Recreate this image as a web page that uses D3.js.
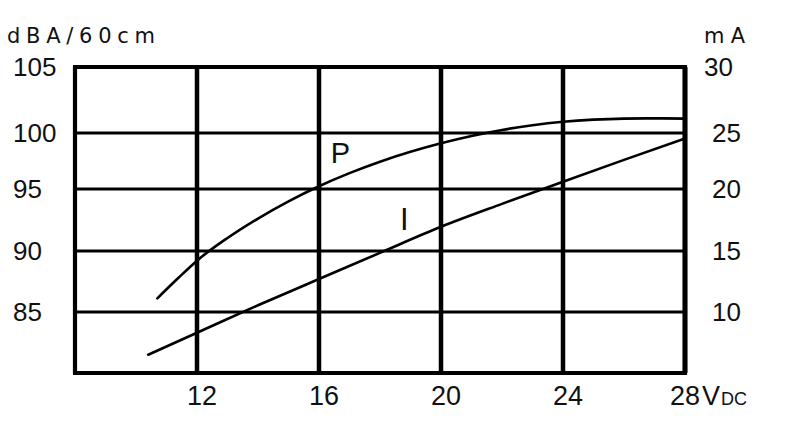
<!DOCTYPE html>
<html><head><meta charset="utf-8">
<script src="https://cdn.jsdelivr.net/npm/d3@7"></script>
<style>
body{margin:0;background:#fff}
text{font-family:"Liberation Sans",Arial,sans-serif;fill:#111}
text.title{font-family:"DejaVu Sans",sans-serif}
</style>
</head><body>
<svg id="c" width="800" height="433"></svg>
<script>
// ---- data ----
const voltTicks = [12, 16, 20, 24, 28];
const dbaTicks = [85, 90, 95, 100, 105];
const maTicks = [10, 15, 20, 25, 30];
const pVolts = [10.7, 11.35, 12, 13, 14, 15, 16, 17, 18, 19, 20, 21, 22, 23, 24, 25, 26, 27, 28];
const pDba   = [86.12, 87.7, 89.21, 91.05, 92.62, 94.01, 95.25, 96.42, 97.44, 98.32, 99.08, 99.73, 100.23, 100.59, 100.85, 101.01, 101.09, 101.11, 101.09];
const iVolts = [10.4, 12, 14, 16, 18, 20, 22, 24, 26, 28];
const iMa    = [6.5, 8.3, 10.55, 12.7, 14.85, 16.95, 18.8, 20.65, 22.6, 24.5];

const svg = d3.select("#c");
const x = d3.scaleLinear().domain([8, 28]).range([75, 685]);
const y = d3.scaleLinear().domain([80, 85, 90, 95, 100, 105]).range([373, 312, 251, 189, 133, 67]);
const yR = d3.scaleLinear().domain([5, 10, 15, 20, 25, 30]).range([373, 312, 251, 189, 133, 67]);

// horizontal grid
svg.append("g").selectAll("line").data(dbaTicks.filter(d => d < 105)).join("line")
  .attr("x1", x(8)).attr("x2", x(28)).attr("y1", d => y(d)).attr("y2", d => y(d))
  .attr("stroke", "#000").attr("stroke-width", 3);
// vertical grid
svg.append("g").selectAll("line").data(voltTicks.filter(d => d < 28)).join("line")
  .attr("y1", y(80)).attr("y2", y(105)).attr("x1", d => x(d)).attr("x2", d => x(d))
  .attr("stroke", "#000").attr("stroke-width", 4.5);
// frame
svg.append("path")
  .attr("d", `M${x(8)},${y(105)}H${x(28)}V${y(80)}H${x(8)}Z`)
  .attr("fill", "none").attr("stroke", "#000").attr("stroke-width", 4.2)
  .attr("stroke-linejoin", "miter");
svg.append("line").attr("x1", x(28)).attr("x2", x(28)).attr("y1", y(105)).attr("y2", y(80))
  .attr("stroke", "#000").attr("stroke-width", 5);

// curves
const line = d3.line().curve(d3.curveMonotoneX);
svg.append("path")
  .attr("d", line(pVolts.map((v, i) => [x(v), y(pDba[i])])))
  .attr("fill", "none").attr("stroke", "#000").attr("stroke-width", 2.6).attr("stroke-linecap", "round");
svg.append("path")
  .attr("d", line(iVolts.map((v, i) => [x(v), yR(iMa[i])])))
  .attr("fill", "none").attr("stroke", "#000").attr("stroke-width", 2.6).attr("stroke-linecap", "round");

// curve labels
svg.append("text").attr("x", x(16.7)).attr("y", y(97.3)).attr("text-anchor", "middle")
  .attr("font-size", 29).text("P");
svg.append("text").attr("x", x(18.8)).attr("y", yR(16.7)).attr("text-anchor", "middle")
  .attr("font-size", 31).text("I");

// left tick labels
svg.append("g").selectAll("text").data(dbaTicks).join("text")
  .attr("x", 13).attr("y", d => y(d)).attr("dy", "0.36em")
  .attr("font-size", 26).text(d => d);
// right tick labels
svg.append("g").selectAll("text").data(maTicks).join("text")
  .attr("x", d => d === 30 ? 704 : 712).attr("y", d => yR(d)).attr("dy", "0.36em")
  .attr("font-size", 26).text(d => d);
// bottom tick labels
svg.append("g").selectAll("text").data(voltTicks).join("text")
  .attr("x", d => x(d) + (d === 28 ? 0 : 5)).attr("y", 405).attr("text-anchor", "middle")
  .attr("font-size", 27).text(d => d);
// unit after 28
const u = svg.append("text").attr("x", 702).attr("y", 405).attr("font-size", 27);
u.append("tspan").text("V");
u.append("tspan").attr("font-size", 18).attr("dx", 1).text("DC");

// axis titles
svg.append("text").attr("class", "title").attr("x", 7).attr("y", 43).attr("font-size", 21)
  .attr("textLength", 148).attr("lengthAdjust", "spacing").text("dBA/60cm");
svg.append("text").attr("class", "title").attr("x", 704).attr("y", 43).attr("font-size", 21)
  .attr("textLength", 41).attr("lengthAdjust", "spacing").text("mA");
</script>
</body></html>
